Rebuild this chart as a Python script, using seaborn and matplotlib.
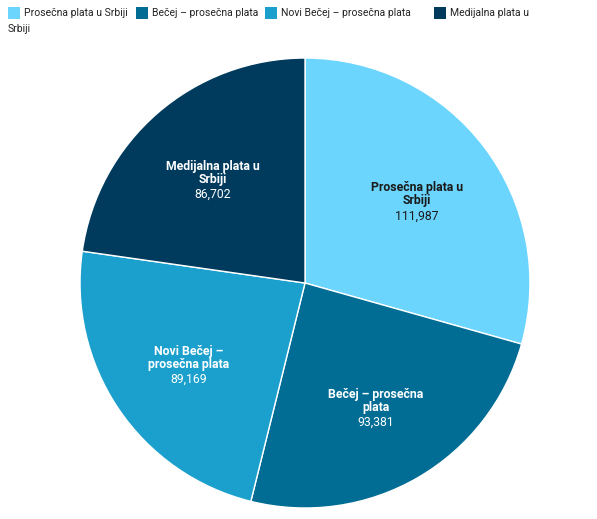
import numpy as np
import matplotlib
matplotlib.use("Agg")
import matplotlib.pyplot as plt
import matplotlib.patches as mpatches
import seaborn as sns

categories = ["Prosečna plata u Srbiji", "Bečej – prosečna plata",
              "Novi Bečej – prosečna plata", "Medijalna plata u Srbiji"]
label_lines = ["Prosečna plata u\nSrbiji", "Bečej – prosečna\nplata",
               "Novi Bečej –\nprosečna plata", "Medijalna plata u\nSrbiji"]
values = [111987, 93381, 89169, 86702]
colors = ["#6bd5fe", "#016d95", "#1ba0cd", "#003b5e"]
text_colors = ["#1a1a1a", "white", "white", "white"]

sns.set_theme(style="white")
plt.rcParams['font.family'] = ['Roboto', 'DejaVu Sans']

fig = plt.figure(figsize=(5.97, 5.19), dpi=100)
ax = fig.add_axes([0.1340, 0.0212, 0.7538, 0.867])
wedges, _ = ax.pie(values, colors=sns.color_palette(colors), startangle=90, counterclock=False,
                   wedgeprops=dict(edgecolor="white", linewidth=1))
ax.set_aspect("equal")
ax.set_xlim(-1, 1)
ax.set_ylim(-1, 1)

r = 0.625
for w, lab, v, tc in zip(wedges, label_lines, values, text_colors):
    ang = np.deg2rad((w.theta1 + w.theta2) / 2)
    x, y = r * np.cos(ang), r * np.sin(ang)
    ax.text(x, y - 0.041, lab, ha="center", va="bottom", fontsize=8.8, fontweight="bold",
            color=tc, linespacing=1.0)
    ax.text(x, y - 0.051, f"{v:,}", ha="center", va="top", fontsize=8.8, color=tc)

# legend
W, H = 597, 519
items = [(8, categories[0]), (136, categories[1]), (265, categories[2]), (434, "Medijalna plata u")]
for (px, txt), c in zip(items, colors):
    fig.add_artist(mpatches.Rectangle((px / W, 1 - 19 / H), 12 / W, 12 / H,
                                      transform=fig.transFigure, facecolor=c, edgecolor="none"))
    fig.text((px + 16) / W, 1 - 13 / H, txt, ha="left", va="center", fontsize=7.5, color="#222222")
fig.text(8 / W, 1 - 29 / H, "Srbiji", ha="left", va="center", fontsize=7.5, color="#222222")

fig.savefig("out.png", dpi=100)
